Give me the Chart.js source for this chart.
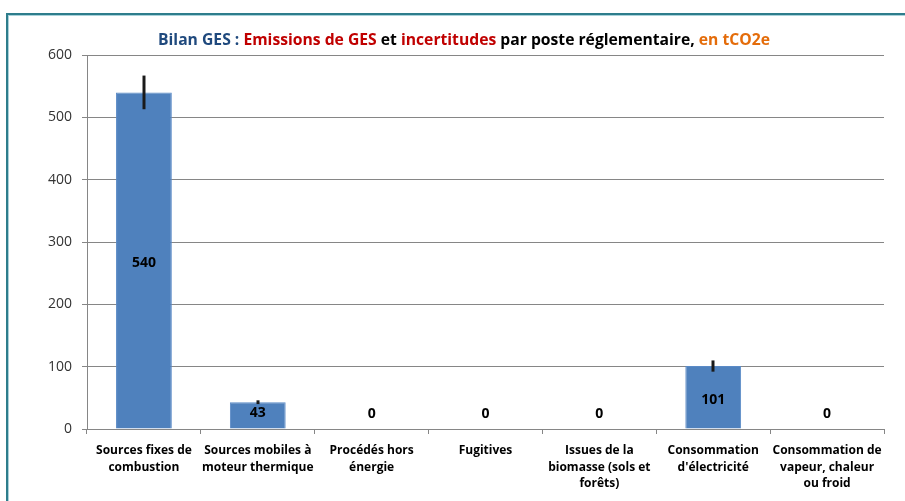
<!DOCTYPE html>
<html>
<head>
<meta charset="utf-8">
<script src="https://cdn.jsdelivr.net/npm/chart.js@4/dist/chart.umd.min.js"></script>
<style>
  html, body { margin: 0; padding: 0; background: #fff; }
  #wrap { position: relative; width: 905px; height: 501px; }
</style>
</head>
<body>
<div id="wrap"><canvas id="c" width="905" height="501"></canvas></div>
<script>
const categories = [
  ["Sources fixes de", "combustion"],
  ["Sources mobiles à", "moteur thermique"],
  ["Procédés hors", "énergie"],
  ["Fugitives"],
  ["Issues de la", "biomasse (sols et", "forêts)"],
  ["Consommation", "d'électricité"],
  ["Consommation de", "vapeur, chaleur", "ou froid"]
];
const emissions = [540, 43, 0, 0, 0, 101, 0];
const uncertainties = [27, 3, 0, 0, 0, 9, 0];
const yTicks = [0, 100, 200, 300, 400, 500, 600];
const titleParts = [
  ["Bilan GES : ", "#1F497D"],
  ["Emissions de GES", "#C00000"],
  [" et ", "#000000"],
  ["incertitudes", "#C00000"],
  [" par poste réglementaire,", "#000000"],
  [" en tCO2e", "#E46C0A"]
];

const FONT = "'Open Sans', 'DejaVu Sans', sans-serif";

const extras = {
  id: 'extras',
  beforeDraw(chart) {
    const ctx = chart.ctx;
    ctx.save();
    ctx.fillStyle = '#2E7D8C';
    ctx.fillRect(6, 13, 905 - 6, 2);
    ctx.fillRect(6, 13, 2, 501 - 13);
    ctx.fillStyle = '#A9D2DA';
    ctx.fillRect(8, 15, 905 - 8, 1);
    ctx.fillRect(8, 15, 1, 501 - 15);
    ctx.restore();
  },
  afterDraw(chart) {
    const ctx = chart.ctx;
    ctx.save();
    // title
    ctx.font = "bold 15.7px " + FONT;
    ctx.textBaseline = 'middle';
    let total = 0;
    titleParts.forEach(p => total += ctx.measureText(p[0]).width);
    let x = 464 - total / 2;
    ctx.textAlign = 'left';
    titleParts.forEach(p => {
      ctx.fillStyle = p[1];
      ctx.fillText(p[0], x, 41);
      x += ctx.measureText(p[0]).width;
    });
    // error bars
    const meta = chart.getDatasetMeta(0);
    const ys = chart.scales.y;
    ctx.strokeStyle = '#1a1a1a';
    ctx.lineWidth = 3;
    meta.data.forEach((el, i) => {
      const e = uncertainties[i];
      if (!e) return;
      const v = emissions[i];
      ctx.beginPath();
      ctx.moveTo(Math.round(el.x), ys.getPixelForValue(v + e));
      ctx.lineTo(Math.round(el.x), ys.getPixelForValue(v - e));
      ctx.stroke();
    });
    // data labels
    ctx.font = "bold 14px " + FONT;
    ctx.fillStyle = '#000';
    ctx.textAlign = 'center';
    meta.data.forEach((el, i) => {
      const y = Math.min((el.y + el.base) / 2 + 3, el.base - 15);
      ctx.fillText(String(emissions[i]), el.x, y);
    });
    ctx.restore();
  }
};

new Chart(document.getElementById('c'), {
  type: 'bar',
  data: {
    labels: categories,
    datasets: [{
      data: emissions,
      backgroundColor: '#4F81BD',
      borderColor: '#5A8AC6',
      borderWidth: 1,
      barPercentage: 0.49,
      categoryPercentage: 1
    }]
  },
  options: {
    responsive: false,
    animation: false,
    layout: { padding: { top: 55, right: 21, left: 0, bottom: 0 } },
    plugins: { legend: { display: false }, tooltip: { enabled: false }, title: { display: false } },
    scales: {
      y: {
        min: 0, max: 600,
        afterBuildTicks: s => { s.ticks = yTicks.map(v => ({ value: v })); },
        afterFit: s => { s.width = 87; },
        ticks: { font: { family: FONT, size: 14 }, color: '#333', padding: 10 },
        grid: { color: '#868686', tickLength: 5, lineWidth: 1 },
        border: { color: '#868686' }
      },
      x: {
        afterFit: s => { s.height = 72; },
        ticks: { font: { family: FONT, size: 12, weight: 'bold', lineHeight: 1.4 }, color: '#000', padding: 8, maxRotation: 0, autoSkip: false },
        grid: { drawOnChartArea: false, offset: true, tickLength: 5, color: '#868686' },
        border: { color: '#868686' }
      }
    }
  },
  plugins: [extras]
});
</script>
</body>
</html>
